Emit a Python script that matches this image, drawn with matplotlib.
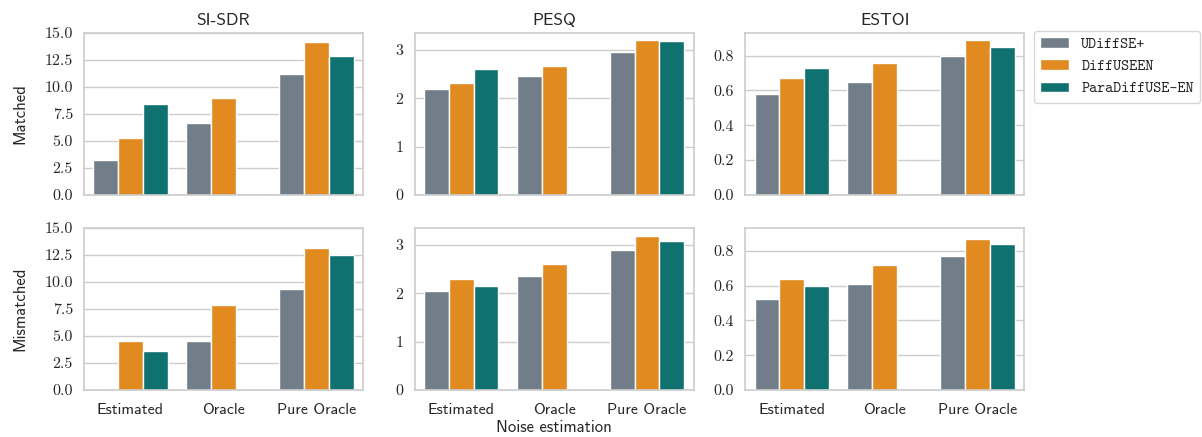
import numpy as np
import matplotlib.pyplot as plt
import seaborn as sns

nan = np.nan
methods = ['UDiffSE+', 'DiffUSEEN', 'ParaDiffUSE-EN']
estimations = ['Estimated', 'Oracle', 'Pure Oracle']
metrics = ['SI-SDR', 'PESQ', 'ESTOI']
conditions = ['Matched', 'Mismatched']

# rows: method, cols: noise estimation
sisdr_matched = [[3.2, 6.7, 11.2], [5.3, 9.0, 14.2], [8.4, nan, 12.9]]
pesq_matched = [[2.2, 2.45, 2.95], [2.32, 2.66, 3.2], [2.6, nan, 3.18]]
estoi_matched = [[0.58, 0.65, 0.80], [0.67, 0.76, 0.89], [0.73, nan, 0.85]]
sisdr_mismatched = [[nan, 4.5, 9.35], [4.55, 7.85, 13.15], [3.6, nan, 12.5]]
pesq_mismatched = [[2.04, 2.36, 2.9], [2.3, 2.6, 3.18], [2.16, nan, 3.08]]
estoi_mismatched = [[0.52, 0.61, 0.77], [0.64, 0.72, 0.87], [0.60, nan, 0.84]]

colors = ['#717e8a', '#e08a20', '#107270']

sns.set_theme(style='whitegrid')
plt.rcParams['font.family'] = ['cmss10', 'DejaVu Sans']
plt.rcParams['axes.unicode_minus'] = False

data = {
    ('Matched', 'SI-SDR'): sisdr_matched,
    ('Matched', 'PESQ'): pesq_matched,
    ('Matched', 'ESTOI'): estoi_matched,
    ('Mismatched', 'SI-SDR'): sisdr_mismatched,
    ('Mismatched', 'PESQ'): pesq_mismatched,
    ('Mismatched', 'ESTOI'): estoi_mismatched,
}
ylims = {'SI-SDR': (0, 15), 'PESQ': (0, 3.35), 'ESTOI': (0, 0.93)}
yticks = {'SI-SDR': np.arange(0, 15.1, 2.5), 'PESQ': [0, 1, 2, 3],
          'ESTOI': np.arange(0, 0.81, 0.2)}
yfmt = {'SI-SDR': '{:.1f}', 'PESQ': '{:.0f}', 'ESTOI': '{:.1f}'}

fig = plt.figure(figsize=(12.02, 4.37), dpi=100)
lefts = [0.0699, 0.345, 0.620]
width = 0.232
bottoms = [0.554, 0.1076]
height = 0.3705

x = np.arange(len(estimations))
bw = 0.8 / len(methods)
handles = []
for r, cond in enumerate(conditions):
    for c, metric in enumerate(metrics):
        ax = fig.add_axes([lefts[c], bottoms[r], width, height])
        vals = data[(cond, metric)]
        for i, m in enumerate(methods):
            b = ax.bar(x + (i - 1) * bw, vals[i], bw, color=colors[i],
                       edgecolor='white', linewidth=1, label=m, zorder=2)
            if r == 0 and c == 0:
                handles.append(b)
        ax.set_xlim(-0.5, 2.5)
        ax.set_ylim(*ylims[metric])
        ax.set_yticks(yticks[metric])
        ax.set_yticklabels([yfmt[metric].format(v) for v in yticks[metric]],
                           fontfamily='cmr10', fontsize=11.5)
        ax.xaxis.grid(False)
        ax.tick_params(axis='y', pad=2)
        for s in ax.spines.values():
            s.set_color('#cccccc')
            s.set_linewidth(1.2)
        ax.set_xticks(x)
        if r == 1:
            ax.set_xticklabels(estimations, fontsize=11.5)
        else:
            ax.set_xticklabels([])
            ax.set_title(metric, fontsize=12.5, pad=6)
        if c == 0:
            ax.set_ylabel(cond, fontsize=12, labelpad=12)
        if r == 1 and c == 1:
            ax.set_xlabel('Noise estimation', fontsize=12, labelpad=2)

leg = fig.legend(handles, methods, loc='upper left',
                 bbox_to_anchor=(1034 / 1202, 1 - 31 / 437),
                 prop={'family': 'cmtt10', 'size': 11},
                 frameon=True, handlelength=1.9, borderaxespad=0)
leg.get_frame().set_edgecolor('#cccccc')

fig.savefig('out.png', dpi=100)
